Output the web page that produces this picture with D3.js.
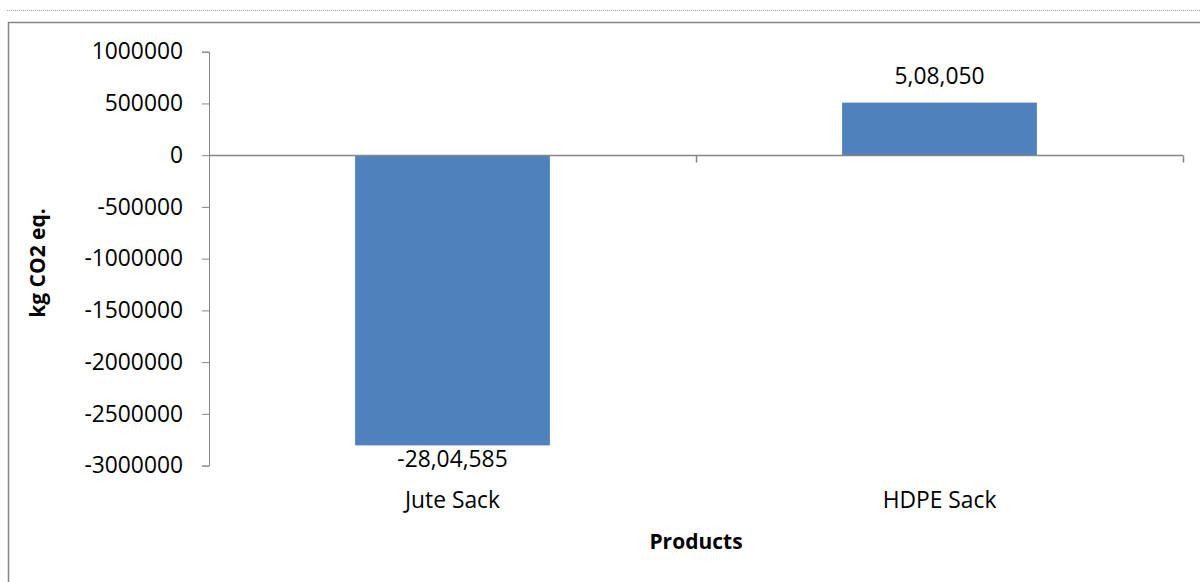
<!DOCTYPE html>
<html>
<head>
<meta charset="utf-8">
<script src="https://cdn.jsdelivr.net/npm/d3@7"></script>
<style>
  html, body { margin: 0; padding: 0; background: #fff; }
  svg { display: block; font-family: "Open Sans", "Noto Sans", sans-serif; }
</style>
</head>
<body>
<svg id="chart" width="1200" height="582"></svg>
<script>
// Net emissions per product (kg CO2 eq.)
const categories = ["Jute Sack", "HDPE Sack"];
const values = [-2804585, 508050];
const yTicks = [1000000, 500000, 0, -500000, -1000000, -1500000, -2000000, -2500000, -3000000];
const yDomain = [-3000000, 1000000];
const xTitle = "Products";
const yTitle = "kg CO2 eq.";

// Indian digit grouping: 28,04,585
function indianFormat(v) {
  const neg = v < 0;
  let s = String(Math.abs(Math.round(v)));
  let last3 = s.slice(-3);
  let rest = s.slice(0, -3);
  if (rest.length) {
    rest = rest.replace(/\B(?=(\d{2})+(?!\d))/g, ",");
    last3 = rest + "," + last3;
  }
  return (neg ? "-" : "") + last3;
}

const svg = d3.select("#chart");
const axisColor = "#868686";
const barColor = "#4F81BD";
const labelSize = 22.8;
const titleSize = 21;

// Outer frame and dotted rule above it
svg.append("line")
  .attr("x1", 7).attr("x2", 1200).attr("y1", 10.5).attr("y2", 10.5)
  .attr("stroke", "#999").attr("stroke-width", 1).attr("stroke-dasharray", "1,1");
svg.append("rect")
  .attr("x", 8.5).attr("y", 22.5).attr("width", 1300).attr("height", 700)
  .attr("fill", "none").attr("stroke", axisColor).attr("stroke-width", 1.5);

const plotLeft = 209, plotRight = 1183;
const y = d3.scaleLinear().domain(yDomain).range([465.6, 51.7]);
const x = d3.scaleBand().domain(categories).range([plotLeft, plotRight]).padding(0);
const barW = x.bandwidth() * 0.4;

// Y axis
const yAxis = d3.axisLeft(y).tickValues(yTicks).tickSize(7).tickPadding(19)
  .tickFormat(d => String(d));
const gy = svg.append("g").attr("transform", `translate(${plotLeft},0)`).call(yAxis);
gy.select(".domain").attr("stroke", axisColor);
gy.selectAll(".tick line").attr("stroke", axisColor);
gy.selectAll(".tick text").attr("fill", "#000").attr("font-size", labelSize)
  .attr("font-family", "'Open Sans', sans-serif");

// Bars
svg.append("g").selectAll("rect").data(categories).join("rect")
  .attr("x", (d) => x(d) + (x.bandwidth() - barW) / 2)
  .attr("width", barW)
  .attr("y", (d, i) => y(Math.max(0, values[i])))
  .attr("height", (d, i) => Math.abs(y(values[i]) - y(0)))
  .attr("fill", barColor);

// Category axis along zero, with ticks between categories
const y0 = Math.round(y(0)) + 0.5;
svg.append("line")
  .attr("x1", plotLeft).attr("x2", plotRight).attr("y1", y0).attr("y2", y0)
  .attr("stroke", axisColor).attr("stroke-width", 1.5);
const edges = categories.map(c => x(c)).concat([x(categories[categories.length - 1]) + x.bandwidth()]);
svg.append("g").selectAll("line").data(edges.slice(1)).join("line")
  .attr("x1", d => Math.round(d) + 0.5).attr("x2", d => Math.round(d) + 0.5)
  .attr("y1", y0).attr("y2", y0 + 7)
  .attr("stroke", axisColor).attr("stroke-width", 1.5);

// Category labels
svg.append("g").selectAll("text").data(categories).join("text")
  .attr("x", d => x(d) + x.bandwidth() / 2)
  .attr("y", 508)
  .attr("text-anchor", "middle")
  .attr("font-size", labelSize)
  .text(d => d);

// Value labels
svg.append("g").selectAll("text").data(categories).join("text")
  .attr("x", d => x(d) + x.bandwidth() / 2)
  .attr("y", (d, i) => values[i] >= 0 ? y(values[i]) - 19 : y(values[i]) + 22)
  .attr("text-anchor", "middle")
  .attr("font-size", labelSize)
  .text((d, i) => indianFormat(values[i]));

// Axis titles
svg.append("text")
  .attr("x", (plotLeft + plotRight) / 2).attr("y", 549)
  .attr("text-anchor", "middle").attr("font-size", titleSize).attr("font-weight", "bold")
  .text(xTitle);
svg.append("text")
  .attr("transform", "translate(45,263) rotate(-90)")
  .attr("text-anchor", "middle").attr("font-size", titleSize).attr("font-weight", "bold")
  .text(yTitle);
</script>
</body>
</html>
